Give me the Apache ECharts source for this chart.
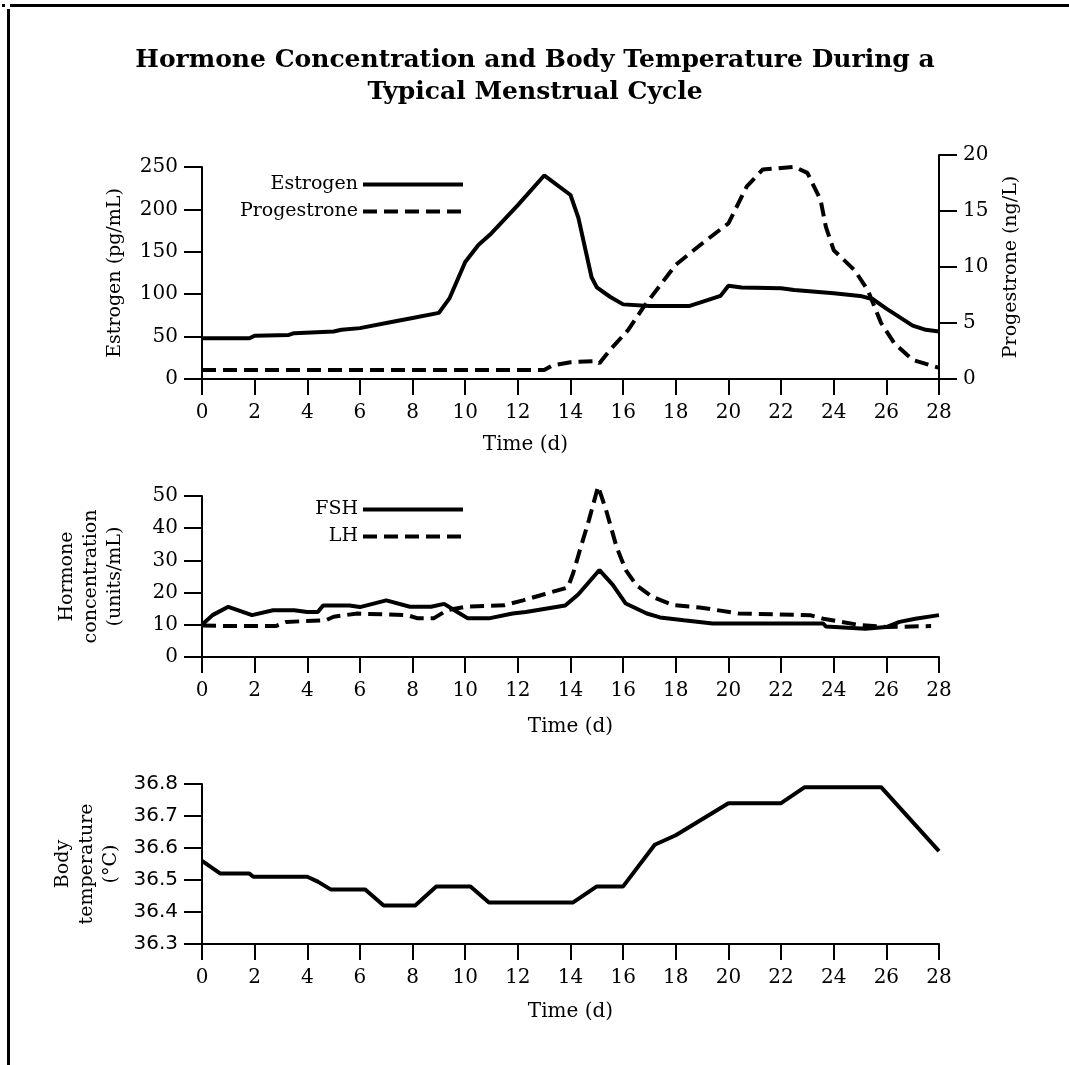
<!DOCTYPE html>
<html><head><meta charset="utf-8">
<script src="https://cdn.jsdelivr.net/npm/echarts@6/dist/echarts.min.js"></script>
<style>html,body{margin:0;padding:0;background:#fff}#c{width:1069px;height:1065px}</style>
</head><body><div id="c"></div>
<script>
// ---- data (day, value) ----
const xTicks = [0,2,4,6,8,10,12,14,16,18,20,22,24,26,28];
const estrogen = [[0,48],[1.8,48],[2,51],[3.3,52],[3.5,54],[5,56],[5.3,58],[6,60],[7,66],[8,72],[9,78],[9.4,95],[10,138],[10.5,158],[11,172],[12,205],[13,240],[14,217],[14.3,190],[14.8,120],[15,108],[15.5,97],[16,88],[17,86],[18.5,86],[19,91],[19.7,98],[20,110],[20.5,108],[22,107],[22.5,105],[24,101],[25,98],[25.5,94],[26,83],[27,63],[27.5,58],[28,56]];
const progesterone = [[0,0.8],[13,0.8],[13.3,1.2],[14,1.5],[15,1.6],[15.1,1.4],[15.5,2.6],[16.2,4.4],[16.8,6.5],[18,10.2],[19,12.1],[20,13.9],[20.7,17.2],[21.3,18.7],[22.5,18.95],[23,18.4],[23.5,16],[23.7,13.6],[24,11.5],[24.8,9.7],[25.3,7.9],[25.8,5.0],[26.3,3.2],[27,1.7],[28,1.0]];
const fsh = [[0,10],[0.4,13],[1,15.6],[1.9,13],[2.7,14.5],[3.5,14.5],[4,14],[4.4,14],[4.6,16],[5.6,16],[6,15.5],[7,17.6],[7.9,15.6],[8.7,15.6],[9.2,16.5],[9.7,14],[10.1,12],[10.9,12],[11.8,13.5],[12.3,14],[13.8,16],[14.3,19.5],[15.1,27],[15.6,22.5],[16.1,16.6],[16.9,13.5],[17.4,12.3],[18.3,11.4],[19.4,10.4],[23.6,10.4],[23.7,9.5],[25.2,8.8],[26,9.3],[26.5,10.9],[27.1,11.9],[28,13]];
const lh = [[0,9.8],[0.9,9.6],[2.8,9.6],[3.2,10.9],[4.7,11.4],[5,12.5],[5.9,13.5],[7.8,13],[8.2,12],[8.8,12],[9.3,14.5],[10,15.6],[11.5,16.1],[12.2,17.6],[13,19.5],[13.9,21.6],[14.1,26],[14.35,33],[14.7,42.5],[15.05,53],[15.35,45.7],[15.75,34.2],[16.1,27],[16.5,22.3],[17.1,18.7],[17.9,16.1],[18.9,15.4],[20.4,13.5],[23.1,13],[23.6,11.9],[25,9.9],[26,9.3],[27.7,9.6]];
const temperature = [[0,36.56],[0.7,36.52],[1.8,36.52],[1.95,36.51],[4,36.51],[4.4,36.495],[4.9,36.47],[6.2,36.47],[6.9,36.42],[8.1,36.42],[8.9,36.48],[10.2,36.48],[10.9,36.43],[14.1,36.43],[15,36.48],[16,36.48],[17.2,36.61],[18,36.64],[20,36.74],[22,36.74],[22.9,36.79],[25.8,36.79],[28,36.59]];

const SERIF = '"DejaVu Serif", serif';
const SANS = '"DejaVu Sans", sans-serif';
const BLK = '#000';
const axisLine = {show:true, onZero:false, lineStyle:{color:BLK, width:2}};
const axisTick = (len)=>({show:true, length:len, lineStyle:{color:BLK, width:2}});
const lbl = (fam, m)=>({color:BLK, fontFamily:fam, fontSize:20, margin:m});

function xAx(grid, nameGap, padRight, show){
  return {type:'value', gridIndex:grid, min:0, max:28, interval:2, show:show,
    axisLine:axisLine, axisTick:axisTick(16), axisLabel:lbl(SERIF,24), splitLine:{show:false},
    name: show ? 'Time (d)' : '', nameLocation:'middle', nameGap:nameGap,
    nameTextStyle:{color:BLK, fontFamily:SERIF, fontSize:20, padding:[0,padRight,0,0]}};
}
function yAx(grid, min, max, interval, name, fam, nameGap, fmt, pos){
  return {type:'value', gridIndex:grid, min:min, max:max, interval:interval, position:pos||'left',
    axisLine:axisLine, axisTick:axisTick(18),
    axisLabel:Object.assign(lbl(fam,24), fmt?{formatter:fmt}:{}), splitLine:{show:false},
    name:name, nameLocation:'middle', nameGap:nameGap, nameRotate:90,
    nameTextStyle:{color:BLK, fontFamily:SERIF, fontSize:19, lineHeight:24}};
}
const solid = {color:BLK, width:4, type:'solid'};
const dashed = {color:BLK, width:4, type:[14,7]};

function leg(name, top, dash){
  return {data:[name], right:599, top:top, align:'right', itemWidth:100, itemHeight:14, itemGap:12,
    itemStyle:{color:'rgba(0,0,0,0)', borderWidth:0, opacity:0},
    lineStyle:{color:BLK, width:4, type: dash ? [14,7] : 'solid'},
    textStyle:{fontFamily:SERIF, fontSize:19, color:BLK}};
}

const option = {
  backgroundColor:'#fff',
  animation:false,
  title:{text:'Hormone Concentration and Body Temperature During a\nTypical Menstrual Cycle',
    left:530, top:39, textAlign:'center',
    textStyle:{fontFamily:SERIF, fontWeight:'bold', fontSize:25, lineHeight:32, color:BLK}},
  grid:[
    {left:202, right:130, top:167, bottom:686},
    {left:202, right:130, top:155, bottom:686},
    {left:202, right:130, top:496, bottom:408},
    {left:202, right:130, top:784, bottom:121}
  ],
  xAxis:[ xAx(0,56,90,true), xAx(1,56,0,false), xAx(2,60,0,true), xAx(3,58,0,true) ],
  yAxis:[
    yAx(0,0,250,50,'Estrogen (pg/mL)',SERIF,75),
    yAx(1,0,20,5,'Progestrone (ng/L)',SERIF,58,null,'right'),
    yAx(2,0,50,10,'Hormone\nconcentration\n(units/mL)',SERIF,75),
    yAx(3,36.3,36.8,0.1,'Body\ntemperature\n(°C)',SANS,74,(v)=>v.toFixed(1))
  ],
  legend:[ leg('Estrogen',170,false), leg('Progestrone',197,true), leg('FSH',495,false), leg('LH',522,true) ],
  series:[
    {name:'Estrogen', type:'line', xAxisIndex:0, yAxisIndex:0, data:estrogen, symbol:'none', lineStyle:solid, itemStyle:{color:BLK}},
    {name:'Progestrone', type:'line', xAxisIndex:1, yAxisIndex:1, data:progesterone, symbol:'none', lineStyle:dashed, itemStyle:{color:BLK}},
    {name:'FSH', type:'line', xAxisIndex:2, yAxisIndex:2, data:fsh, symbol:'none', lineStyle:solid, itemStyle:{color:BLK}},
    {name:'LH', type:'line', xAxisIndex:2, yAxisIndex:2, data:lh, symbol:'none', lineStyle:dashed, itemStyle:{color:BLK}, clip:false},
    {name:'Body temperature', type:'line', xAxisIndex:3, yAxisIndex:3, data:temperature, symbol:'none', lineStyle:solid, itemStyle:{color:BLK}}
  ],
  graphic:[
    {type:'rect', shape:{x:10,y:4,width:1059,height:3}, style:{fill:BLK}},
    {type:'rect', shape:{x:2,y:4,width:3,height:3}, style:{fill:BLK}},
    {type:'rect', shape:{x:7,y:9,width:3,height:1056}, style:{fill:BLK}}
  ]
};
const chart = echarts.init(document.getElementById('c'), null, {renderer:'canvas'});
chart.setOption(option);
</script></body></html>
